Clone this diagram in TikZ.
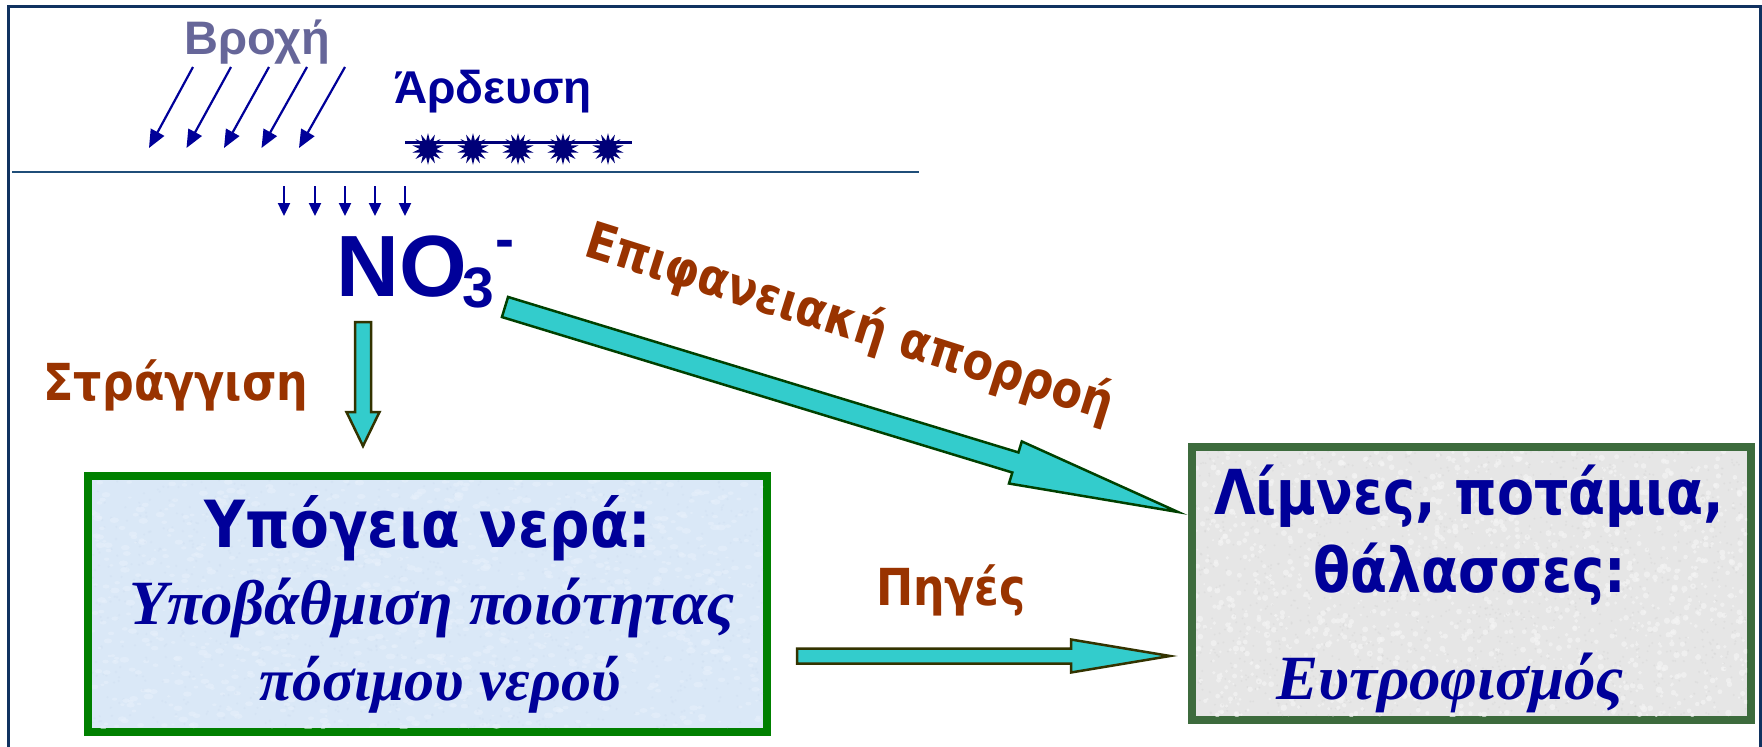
\documentclass[tikz,border=0pt]{standalone}
\usepackage{fontspec}
\setmainfont{Liberation Sans}
\newfontfamily\arialf{Liberation Sans}
\newfontfamily\tah[FakeStretch=0.87]{DejaVu Sans}
\newfontfamily\timesf{Liberation Serif}
\usetikzlibrary{arrows.meta,shapes.geometric,calc}

\definecolor{frameblue}{RGB}{16,50,96}
\definecolor{groundblue}{RGB}{31,78,121}
\definecolor{txtblue}{RGB}{0,0,153}
\definecolor{navystar}{RGB}{0,0,120}
\definecolor{rainpurple}{RGB}{102,102,153}
\definecolor{labelbrown}{RGB}{153,51,0}
\definecolor{turq}{RGB}{51,204,204}
\definecolor{olivedark}{RGB}{51,51,0}
\definecolor{darkgreenline}{RGB}{0,64,0}
\definecolor{boxgreen}{RGB}{0,128,0}
\definecolor{boxgreentwo}{RGB}{61,107,61}
\definecolor{bluefill}{RGB}{218,232,247}
\definecolor{bluespeckA}{RGB}{232,241,251}
\definecolor{bluespeckB}{RGB}{204,220,240}
\definecolor{grayfill}{RGB}{230,230,230}
\definecolor{grayspeckA}{RGB}{244,244,244}
\definecolor{grayspeckB}{RGB}{212,212,212}

% tail, tip, shaft half width, head half width, head length, style
\newcommand\blockarrow[6]{%
  \draw[#6] ($(#1)!#3!90:(#2)$) -- ($(#2)!#5!(#1)!#3!-90:(#1)$)
    -- ($(#2)!#5!(#1)!#4!-90:(#1)$) -- (#2)
    -- ($(#2)!#5!(#1)!#4!90:(#1)$) -- ($(#2)!#5!(#1)!#3!90:(#1)$)
    -- ($(#1)!#3!-90:(#2)$) -- cycle;}

\tikzset{
  blockarr/.style={fill=turq, draw=olivedark, line width=2.5pt, line join=miter},
  rainarrow/.style={draw=txtblue, line width=2.2pt, -{Triangle[length=18pt,width=15pt]}},
  smallarrow/.style={draw=txtblue, line width=2.4pt, -{Triangle[length=13pt,width=12pt]}},
  brownlabel/.style={text=labelbrown, inner sep=0pt, font=\tah\bfseries\fontsize{51}{56}\selectfont},
  boxhead/.style={text=txtblue, inner sep=0pt, anchor=base, font=\tah\bfseries\fontsize{62}{68}\selectfont},
  boxital/.style={text=txtblue, inner sep=0pt, anchor=base, font=\timesf\bfseries\itshape\fontsize{63}{68}\selectfont},
  irrstar/.style={star, star points=14, star point ratio=1.9, minimum size=32pt, inner sep=0pt, fill=navystar},
}

\begin{document}
\begin{tikzpicture}[x=1pt,y=-1pt]
\useasboundingbox (0,0) rectangle (1762,747);

% outer frame
\draw[frameblue, line width=3pt] (8,747) -- (8,6) -- (1760,6) -- (1760,747);

% ground line
\coordinate (g1) at (12,172);
\coordinate (g2) at (919,172);
\draw[groundblue, line width=2.5pt] (g1) -- (g2);

% rain
\node[text=rainpurple, inner sep=0pt, anchor=base, font=\arialf\bfseries\fontsize{47}{52}\selectfont] (rain) at (257,54) {Βροχή};
\foreach \i in {0,...,4}{
  \coordinate (rs\i) at ({193+38*\i},67);
  \coordinate (re\i) at ({149+37.5*\i},148);
  \draw[rainarrow] (rs\i) -- (re\i);
}

% irrigation
\node[text=txtblue, inner sep=0pt, anchor=base, font=\arialf\bfseries\fontsize{46}{52}\selectfont] (irr) at (493,103) {Άρδευση};
\coordinate (i1) at (405,142);
\coordinate (i2) at (632,142);
\draw[navystar, line width=3pt] (i1) -- (i2);
\foreach \i/\x in {1/428,2/473,3/518,4/563,5/608}{
  \node[irrstar] (st\i) at (\x,149) {};
}

% small arrows into soil
\foreach \i/\x in {1/284,2/315,3/345,4/375,5/405}{
  \coordinate (ss\i) at (\x,186);
  \coordinate (se\i) at (\x,216);
  \draw[smallarrow] (ss\i) -- (se\i);
}

% NO3-
\node[text=txtblue, inner sep=0pt, anchor=base west, font=\arialf\bfseries\fontsize{87}{92}\selectfont] (no) at (336,296) {NO};
\node[text=txtblue, inner sep=0pt, anchor=base west, font=\arialf\bfseries\fontsize{57}{60}\selectfont] (nothree) at (462,307) {3};
\node[text=txtblue, inner sep=0pt, anchor=base, font=\arialf\bfseries\fontsize{57}{60}\selectfont] (nominus) at (505,258) {-};

% labels
\node[brownlabel, anchor=base] (leach) at (176,400) {Στράγγιση};
\node[brownlabel, anchor=base] (springs) at (951,605) {Πηγές};
\node[brownlabel, rotate=-17.5] (runoff) at (850,324) {Επιφανειακή απορροή};

% boxes
\node[draw=boxgreen, line width=8pt, fill=bluefill, minimum width=679pt, minimum height=256pt, inner sep=0pt] (ground) at (427.5,604) {};
\node[draw=boxgreentwo, line width=8pt, fill=grayfill, minimum width=559pt, minimum height=273pt, inner sep=0pt] (lakes) at (1471.5,583.5) {};

% fine mottled texture inside the boxes
\pgfmathsetseed{7}
\begin{scope}
  \clip (92,480) rectangle (763,728);
  \foreach \k in {1,...,1100}{
    \pgfmathsetmacro\xa{92+671*rnd}
    \pgfmathsetmacro\ya{480+248*rnd}
    \pgfmathsetmacro\ra{1.5+3.5*rnd}
    \fill[bluespeckA, opacity=0.55] (\xa,\ya) ellipse ({\ra pt} and {0.6*\ra pt});
    \pgfmathsetmacro\xb{92+671*rnd}
    \pgfmathsetmacro\yb{480+248*rnd}
    \fill[bluespeckB, opacity=0.35] (\xb,\yb) circle (1.2pt);
  }
\end{scope}
\begin{scope}
  \clip (1196,451) rectangle (1747,716);
  \foreach \k in {1,...,1400}{
    \pgfmathsetmacro\xa{1196+551*rnd}
    \pgfmathsetmacro\ya{451+265*rnd}
    \pgfmathsetmacro\ra{1+2.2*rnd}
    \fill[grayspeckA, opacity=0.7] (\xa,\ya) circle ({\ra pt});
    \pgfmathsetmacro\xb{1196+551*rnd}
    \pgfmathsetmacro\yb{451+265*rnd}
    \fill[grayspeckB, opacity=0.4] (\xb,\yb) circle (1.1pt);
  }
\end{scope}

\node[boxhead, font=\tah\bfseries\fontsize{65}{70}\selectfont] (gw1) at (428,547) {Υπόγεια νερά:};
\node[boxital] (gw2) at (432,624) {Υποβάθμιση ποιότητας};
\node[boxital, font=\timesf\bfseries\itshape\fontsize{60}{66}\selectfont] (gw3) at (440,700) {πόσιμου νερού};

\node[boxhead] (lk1) at (1469,514) {Λίμνες, ποτάμια,};
\node[boxhead] (lk2) at (1470,592) {θάλασσες:};
\node[boxital] (lk3) at (1450,699) {Ευτροφισμός};

% block arrows
\coordinate (dtail) at (363,322);
\coordinate (dtip) at (363,446);
\blockarrow{dtail}{dtip}{8pt}{16.5pt}{34pt}{blockarr}

\coordinate (atail) at (505,307);
\coordinate (atip) at (1178,512);
\blockarrow{atail}{atip}{10.5pt}{22pt}{170pt}{blockarr, draw=darkgreenline}

\coordinate (ptail) at (797,656);
\coordinate (ptip) at (1170,656);
\blockarrow{ptail}{ptip}{7.5pt}{16.5pt}{99pt}{blockarr}
\end{tikzpicture}
\end{document}
